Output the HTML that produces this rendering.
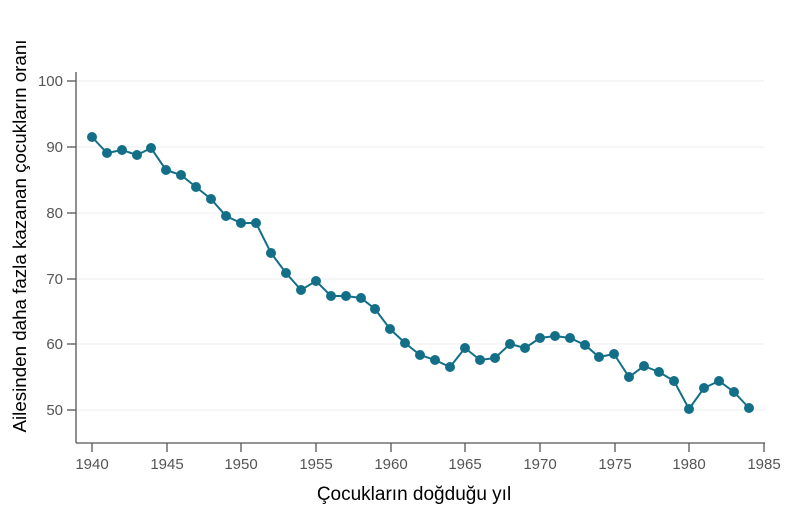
<!DOCTYPE html>
<html><head><meta charset="utf-8"><style>body{margin:0;background:#fff}svg{display:block}</style></head><body>
<svg width="800" height="509" xmlns="http://www.w3.org/2000/svg" font-family="Liberation Sans, Arial, sans-serif">
<g stroke="#ececec" stroke-width="1">
<line x1="76" y1="81" x2="764" y2="81"/><line x1="76" y1="147" x2="764" y2="147"/><line x1="76" y1="213" x2="764" y2="213"/><line x1="76" y1="279" x2="764" y2="279"/><line x1="76" y1="344" x2="764" y2="344"/><line x1="76" y1="410" x2="764" y2="410"/>
</g>
<g stroke="#555" stroke-width="1.3" fill="none">
<line x1="76" y1="72" x2="76" y2="443"/><line x1="76" y1="443" x2="765" y2="443"/>
<line x1="67" y1="81" x2="76" y2="81"/><line x1="67" y1="147" x2="76" y2="147"/><line x1="67" y1="213" x2="76" y2="213"/><line x1="67" y1="279" x2="76" y2="279"/><line x1="67" y1="344" x2="76" y2="344"/><line x1="67" y1="410" x2="76" y2="410"/>
<line x1="92" y1="443" x2="92" y2="452"/><line x1="167" y1="443" x2="167" y2="452"/><line x1="241" y1="443" x2="241" y2="452"/><line x1="316" y1="443" x2="316" y2="452"/><line x1="391" y1="443" x2="391" y2="452"/><line x1="465" y1="443" x2="465" y2="452"/><line x1="540" y1="443" x2="540" y2="452"/><line x1="615" y1="443" x2="615" y2="452"/><line x1="689" y1="443" x2="689" y2="452"/><line x1="764" y1="443" x2="764" y2="452"/>
</g>
<g fill="#555" font-size="15" text-anchor="end">
<text x="63" y="86">100</text><text x="63" y="152">90</text><text x="63" y="218">80</text><text x="63" y="284">70</text><text x="63" y="349">60</text><text x="63" y="415">50</text>
</g>
<g fill="#555" font-size="15" text-anchor="middle">
<text x="92" y="469">1940</text><text x="167" y="469">1945</text><text x="241" y="469">1950</text><text x="316" y="469">1955</text><text x="391" y="469">1960</text><text x="465" y="469">1965</text><text x="540" y="469">1970</text><text x="615" y="469">1975</text><text x="689" y="469">1980</text><text x="764" y="469">1985</text>
</g>
<text x="414" y="500" font-size="19" text-anchor="middle" fill="#000">Çocukların doğduğu yıl</text>
<text transform="translate(26,236) rotate(-90)" font-size="18" text-anchor="middle" fill="#000" textLength="393" lengthAdjust="spacingAndGlyphs">Ailesinden daha fazla kazanan çocukların oranı</text>
<polyline fill="none" stroke="#136f87" stroke-width="2" points="92,137 107,153 122,150 137,155 151,148 166,170 181,175 196,187 211,199 226,216 241,223 256,223 271,253 286,273 301,290 316,281 331,296 346,296 361,298 375,309 390,329 405,343 420,355 435,360 450,367 465,348 480,360 495,358 510,344 525,348 540,338 555,336 570,338 585,345 599,357 614,354 629,377 644,366 659,372 674,381 689,409 704,388 719,381 734,392 749,408"/>
<g fill="#136f87">
<circle cx="92" cy="137" r="5"/><circle cx="107" cy="153" r="5"/><circle cx="122" cy="150" r="5"/><circle cx="137" cy="155" r="5"/><circle cx="151" cy="148" r="5"/><circle cx="166" cy="170" r="5"/><circle cx="181" cy="175" r="5"/><circle cx="196" cy="187" r="5"/><circle cx="211" cy="199" r="5"/><circle cx="226" cy="216" r="5"/><circle cx="241" cy="223" r="5"/><circle cx="256" cy="223" r="5"/><circle cx="271" cy="253" r="5"/><circle cx="286" cy="273" r="5"/><circle cx="301" cy="290" r="5"/><circle cx="316" cy="281" r="5"/><circle cx="331" cy="296" r="5"/><circle cx="346" cy="296" r="5"/><circle cx="361" cy="298" r="5"/><circle cx="375" cy="309" r="5"/><circle cx="390" cy="329" r="5"/><circle cx="405" cy="343" r="5"/><circle cx="420" cy="355" r="5"/><circle cx="435" cy="360" r="5"/><circle cx="450" cy="367" r="5"/><circle cx="465" cy="348" r="5"/><circle cx="480" cy="360" r="5"/><circle cx="495" cy="358" r="5"/><circle cx="510" cy="344" r="5"/><circle cx="525" cy="348" r="5"/><circle cx="540" cy="338" r="5"/><circle cx="555" cy="336" r="5"/><circle cx="570" cy="338" r="5"/><circle cx="585" cy="345" r="5"/><circle cx="599" cy="357" r="5"/><circle cx="614" cy="354" r="5"/><circle cx="629" cy="377" r="5"/><circle cx="644" cy="366" r="5"/><circle cx="659" cy="372" r="5"/><circle cx="674" cy="381" r="5"/><circle cx="689" cy="409" r="5"/><circle cx="704" cy="388" r="5"/><circle cx="719" cy="381" r="5"/><circle cx="734" cy="392" r="5"/><circle cx="749" cy="408" r="5"/>
</g>
</svg>
</body></html>
